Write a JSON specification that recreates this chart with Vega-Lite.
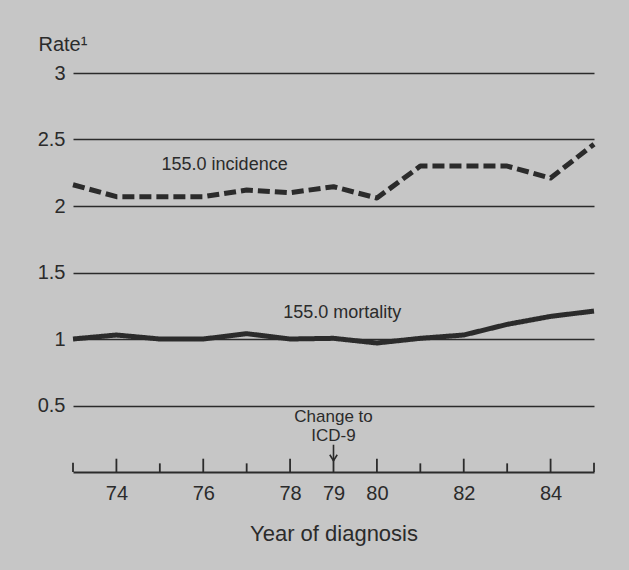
{
  "$schema": "https://vega.github.io/schema/vega-lite/v6.json",
  "width": 521,
  "height": 399,
  "autosize": {"type": "none"},
  "padding": {"left": 73, "top": 73, "right": 35, "bottom": 98},
  "background": "#c6c6c6",
  "config": {
    "view": {"stroke": null},
    "font": "Liberation Sans",
    "text": {"font": "Liberation Sans"}
  },
  "datasets": {
    "rates": [
      {"year": 73, "series": "incidence", "rate": 2.16},
      {"year": 74, "series": "incidence", "rate": 2.07},
      {"year": 75, "series": "incidence", "rate": 2.07},
      {"year": 76, "series": "incidence", "rate": 2.07},
      {"year": 77, "series": "incidence", "rate": 2.12},
      {"year": 78, "series": "incidence", "rate": 2.10},
      {"year": 79, "series": "incidence", "rate": 2.145},
      {"year": 80, "series": "incidence", "rate": 2.06},
      {"year": 81, "series": "incidence", "rate": 2.30},
      {"year": 82, "series": "incidence", "rate": 2.30},
      {"year": 83, "series": "incidence", "rate": 2.30},
      {"year": 84, "series": "incidence", "rate": 2.21},
      {"year": 85, "series": "incidence", "rate": 2.465},
      {"year": 73, "series": "mortality", "rate": 1.00},
      {"year": 74, "series": "mortality", "rate": 1.03},
      {"year": 75, "series": "mortality", "rate": 1.00},
      {"year": 76, "series": "mortality", "rate": 1.00},
      {"year": 77, "series": "mortality", "rate": 1.04},
      {"year": 78, "series": "mortality", "rate": 1.00},
      {"year": 79, "series": "mortality", "rate": 1.005},
      {"year": 80, "series": "mortality", "rate": 0.97},
      {"year": 81, "series": "mortality", "rate": 1.005},
      {"year": 82, "series": "mortality", "rate": 1.03},
      {"year": 83, "series": "mortality", "rate": 1.11},
      {"year": 84, "series": "mortality", "rate": 1.17},
      {"year": 85, "series": "mortality", "rate": 1.21}
    ],
    "ticks": [
      {"year": 73, "base": 0, "len": 0.07},
      {"year": 74, "base": 0, "len": 0.1},
      {"year": 75, "base": 0, "len": 0.065},
      {"year": 76, "base": 0, "len": 0.1},
      {"year": 77, "base": 0, "len": 0.065},
      {"year": 78, "base": 0, "len": 0.1},
      {"year": 79, "base": 0, "len": 0.09},
      {"year": 80, "base": 0, "len": 0.1},
      {"year": 81, "base": 0, "len": 0.065},
      {"year": 82, "base": 0, "len": 0.1},
      {"year": 83, "base": 0, "len": 0.065},
      {"year": 84, "base": 0, "len": 0.1},
      {"year": 85, "base": 0, "len": 0.07}
    ],
    "leftnotes": [
      {"year": 75.04, "rate": 2.31, "label": "155.0 incidence"},
      {"year": 77.84, "rate": 1.195, "label": "155.0 mortality"}
    ],
    "centernotes": [
      {"year": 79.0, "rate": 0.412, "label": "Change to"},
      {"year": 79.0, "rate": 0.268, "label": "ICD-9"}
    ],
    "arrow": [
      {"year": 79.0, "top": 0.205, "tip": 0.085}
    ]
  },
  "layer": [
    {
      "data": {"name": "rates"},
      "mark": {"type": "line", "color": "#2b2b2b", "strokeWidth": 5, "strokeCap": "butt", "strokeJoin": "round"},
      "encoding": {
        "x": {
          "field": "year", "type": "quantitative",
          "scale": {"domain": [73, 85], "nice": false, "zero": false},
          "axis": {
            "values": [74, 76, 78, 79, 80, 82, 84],
            "ticks": false,
            "grid": false,
            "domain": true,
            "domainColor": "#2b2b2b",
            "domainWidth": 2,
            "labelFontSize": 20,
            "labelColor": "#2b2b2b",
            "labelPadding": 11,
            "title": "Year of diagnosis",
            "titleFontSize": 22,
            "titleFontWeight": "normal",
            "titleColor": "#2b2b2b",
            "titlePadding": 20
          }
        },
        "y": {
          "field": "rate", "type": "quantitative",
          "scale": {"domain": [0, 3], "nice": false},
          "axis": {
            "values": [0.5, 1, 1.5, 2, 2.5, 3],
            "format": "~g",
            "ticks": false,
            "domain": false,
            "grid": true,
            "gridColor": "#2b2b2b",
            "gridWidth": 1.5,
            "gridOpacity": 1,
            "labelFontSize": 20,
            "labelColor": "#2b2b2b",
            "labelPadding": 8,
            "title": "Rate¹",
            "titleAngle": 0,
            "titleAlign": "left",
            "titleBaseline": "alphabetic",
            "titleX": -35,
            "titleY": -23,
            "titleFontSize": 20,
            "titleFontWeight": "normal",
            "titleColor": "#2b2b2b"
          }
        },
        "strokeDash": {
          "field": "series", "type": "nominal",
          "scale": {"domain": ["incidence", "mortality"], "range": [[12, 5], [1, 0]]},
          "legend": null
        }
      }
    },
    {
      "data": {"name": "ticks"},
      "mark": {"type": "rule", "color": "#2b2b2b", "strokeWidth": 1.8},
      "encoding": {
        "x": {"field": "year", "type": "quantitative"},
        "y": {"field": "base", "type": "quantitative"},
        "y2": {"field": "len"}
      }
    },
    {
      "data": {"name": "arrow"},
      "mark": {"type": "rule", "color": "#2b2b2b", "strokeWidth": 1.6},
      "encoding": {
        "x": {"field": "year", "type": "quantitative"},
        "y": {"field": "top", "type": "quantitative"},
        "y2": {"field": "tip"}
      }
    },
    {
      "data": {"name": "arrow"},
      "mark": {"type": "point", "shape": "M -1 -1.6 L 0 0 L 1 -1.6", "filled": false, "stroke": "#2b2b2b", "strokeWidth": 1.6, "size": 55, "opacity": 1},
      "encoding": {
        "x": {"field": "year", "type": "quantitative"},
        "y": {"field": "tip", "type": "quantitative"}
      }
    },
    {
      "data": {"name": "leftnotes"},
      "mark": {"type": "text", "fontSize": 18, "color": "#2b2b2b", "baseline": "middle", "align": "left"},
      "encoding": {
        "x": {"field": "year", "type": "quantitative"},
        "y": {"field": "rate", "type": "quantitative"},
        "text": {"field": "label", "type": "nominal"}
      }
    },
    {
      "data": {"name": "centernotes"},
      "mark": {"type": "text", "fontSize": 17, "color": "#2b2b2b", "baseline": "middle", "align": "center"},
      "encoding": {
        "x": {"field": "year", "type": "quantitative"},
        "y": {"field": "rate", "type": "quantitative"},
        "text": {"field": "label", "type": "nominal"}
      }
    }
  ]
}
